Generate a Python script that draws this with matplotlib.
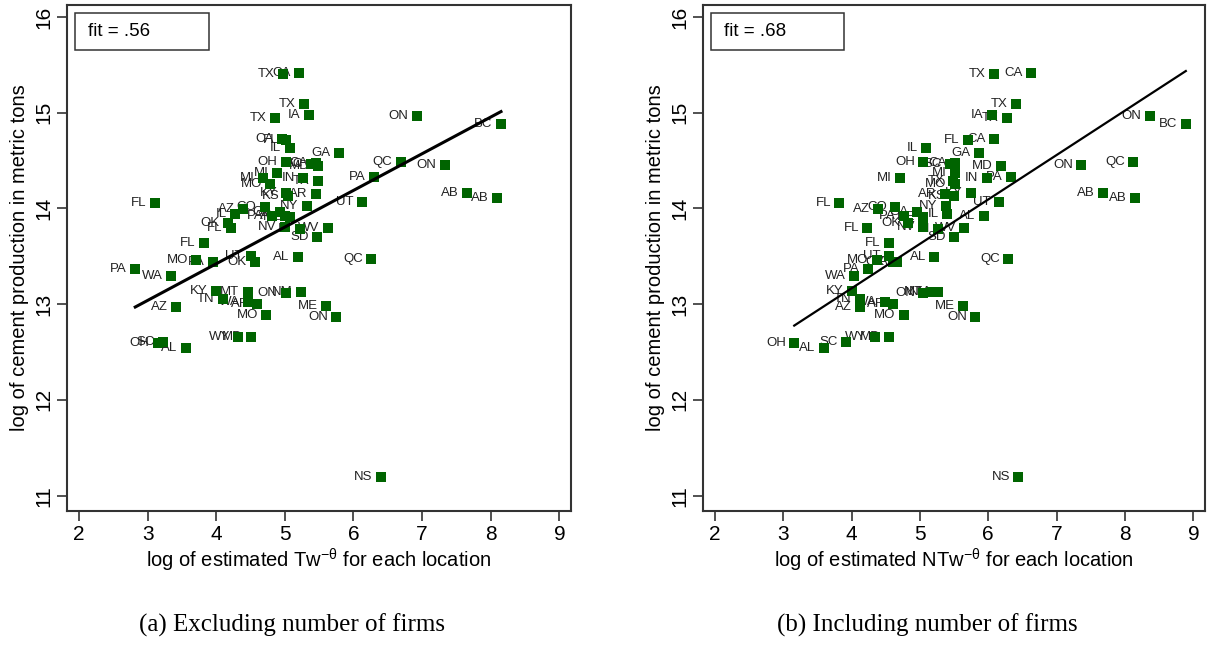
import matplotlib
matplotlib.use("Agg")
import matplotlib.pyplot as plt
from matplotlib.patches import Rectangle
import numpy as np

plt.rcParams['font.family'] = ['Liberation Sans', 'DejaVu Sans']
plt.rcParams['mathtext.fontset'] = 'custom'
plt.rcParams['mathtext.rm'] = 'Liberation Sans'
plt.rcParams['mathtext.it'] = 'Liberation Sans'

labels = ["TX", "CA", "TX", "IA", "TX", "ON", "BC", "CA", "FL", "IL",
          "GA", "OH", "SC", "CA", "MD", "MI", "MI", "MO", "IN", "TX",
          "PA", "QC", "ON", "AB", "AB", "UT", "AR", "KY", "KS", "NY",
          "FL", "AZ", "CO", "IL", "OK", "FL", "PA", "GA", "NE", "AL",
          "NV", "IN", "WV", "SD", "FL", "UT", "OK", "MO", "PA", "AL",
          "QC", "PA", "WA", "KY", "MT", "ON", "NM", "TN", "WA", "AR",
          "AZ", "ME", "ON", "MO", "WY", "MD", "OH", "SC", "AL", "NS"]

log_production = [15.40, 15.41, 15.09, 14.98, 14.94, 14.97, 14.88, 14.72, 14.71, 14.63,
                  14.58, 14.49, 14.46, 14.47, 14.44, 14.37, 14.32, 14.26, 14.32, 14.29,
                  14.33, 14.49, 14.45, 14.16, 14.11, 14.07, 14.15, 14.16, 14.13, 14.03,
                  14.06, 13.99, 14.01, 13.94, 13.85, 13.80, 13.92, 13.96, 13.91, 13.92,
                  13.81, 13.79, 13.80, 13.70, 13.64, 13.50, 13.44, 13.46, 13.44, 13.49,
                  13.47, 13.37, 13.29, 13.14, 13.13, 13.12, 13.13, 13.05, 13.02, 13.00,
                  12.97, 12.98, 12.87, 12.89, 12.66, 12.66, 12.59, 12.61, 12.54, 11.19]

log_Tw = [4.97, 5.21, 5.28, 5.35, 4.85, 6.92, 8.15, 4.96, 5.02, 5.07,
          5.79, 5.01, 5.38, 5.45, 5.48, 4.89, 4.68, 4.79, 5.27, 5.48,
          6.30, 6.69, 7.33, 7.65, 8.09, 6.12, 5.45, 5.01, 5.05, 5.32,
          3.11, 4.39, 4.71, 4.27, 4.17, 4.21, 4.81, 4.93, 5.07, 5.00,
          5.00, 5.22, 5.63, 5.47, 3.82, 4.51, 4.56, 3.71, 3.95, 5.19,
          6.26, 2.82, 3.34, 3.99, 4.46, 5.01, 5.23, 4.10, 4.46, 4.60,
          3.42, 5.60, 5.75, 4.73, 4.32, 4.51, 3.15, 3.22, 3.56, 6.40]

log_NTw = [6.09, 6.63, 6.41, 6.05, 6.28, 8.36, 8.89, 6.09, 5.70, 5.09,
           5.86, 5.05, 5.44, 5.51, 6.19, 5.51, 4.71, 5.51, 5.98, 5.48,
           6.33, 8.12, 7.36, 7.68, 8.14, 6.15, 5.37, 5.75, 5.50, 5.38,
           3.82, 4.39, 4.64, 5.40, 4.83, 4.23, 4.76, 4.95, 5.05, 5.93,
           5.05, 5.27, 5.65, 5.50, 4.54, 4.54, 4.60, 4.37, 4.67, 5.21,
           6.29, 4.24, 4.04, 4.01, 5.17, 5.05, 5.27, 4.12, 4.49, 4.61,
           4.12, 5.63, 5.81, 4.76, 4.34, 4.54, 3.16, 3.92, 3.59, 6.44]

# fitted lines: intercept, slope
fit_a = (11.89, 0.383)
fit_b = (11.31, 0.464)
fit_text = ["fit = .56", "fit = .68"]
xlabels = [r"log of estimated Tw$^{-\theta}$ for each location",
           r"log of estimated NTw$^{-\theta}$ for each location"]
captions = ["(a) Excluding number of firms", "(b) Including number of firms"]
ylabel = "log of cement production in metric tons"
xticks = [2, 3, 4, 5, 6, 7, 8, 9]
yticks = [11, 12, 13, 14, 15, 16]

fig = plt.figure(figsize=(12.11, 6.45), dpi=100)
ax_pos = [[0.0553, 0.2078, 0.4162, 0.7845], [0.5805, 0.2078, 0.4145, 0.7845]]
green = "#006400"
spine_col = "#333333"

for i, (xs, fit, lw) in enumerate([(log_Tw, fit_a, 2.2), (log_NTw, fit_b, 1.6)]):
    ax = fig.add_axes(ax_pos[i])
    ax.scatter(xs, log_production, marker='s', s=56, color=green, zorder=3, linewidths=0)
    for x, y, t in zip(xs, log_production, labels):
        ax.annotate(t, (x, y), xytext=(-6, 0), textcoords='offset points',
                    ha='right', va='center', fontsize=9.5, color='#222222', zorder=2)
    xx = np.array([min(xs), max(xs)])
    ax.plot(xx, fit[0] + fit[1] * xx, color='black', lw=lw, zorder=4)
    ax.set_xlim(1.825, 9.17)
    ax.set_ylim(10.84, 16.125)
    ax.set_xticks(xticks)
    ax.set_yticks(yticks)
    ax.tick_params(direction='out', length=7, width=1.2, labelsize=15, color=spine_col, pad=3)
    for lab in ax.get_yticklabels():
        lab.set_rotation(90)
        lab.set_va('center')
    for s in ax.spines.values():
        s.set_linewidth(1.5)
        s.set_color(spine_col)
    ax.set_xlabel(xlabels[i], fontsize=14.5, labelpad=2)
    ax.set_ylabel(ylabel, fontsize=14.5, labelpad=4)
    ax.add_patch(Rectangle((0.016, 0.911), 0.265, 0.073, transform=ax.transAxes,
                           fill=False, edgecolor=spine_col, lw=1.1, zorder=5))
    ax.text(0.042, 0.947, fit_text[i], transform=ax.transAxes, fontsize=13.5,
            ha='left', va='center', zorder=6)
    cx = ax_pos[i][0] + ax_pos[i][2] / 2
    fig.text(cx - 0.022, 0.031, captions[i], ha='center', va='center', fontsize=18,
             family=['Liberation Serif', 'DejaVu Serif'])

fig.savefig("out.png", dpi=100)
